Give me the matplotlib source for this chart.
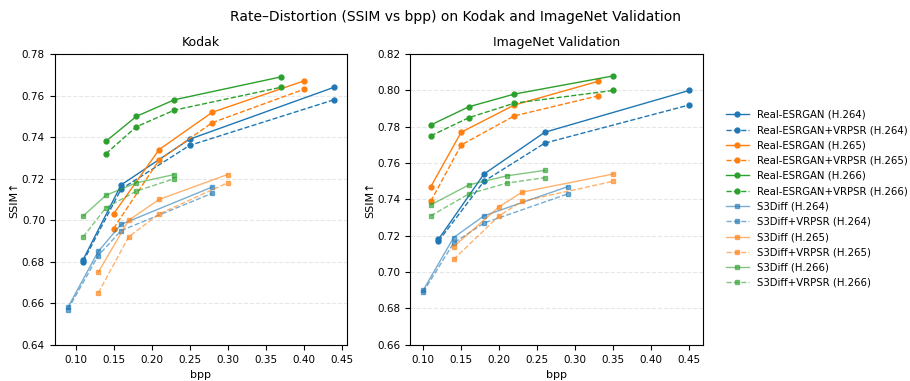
import matplotlib
matplotlib.use("Agg")
import matplotlib.pyplot as plt

# Kodak
kodak_esr_bpp = [0.11, 0.16, 0.25, 0.44]
kodak_esr_264 = [0.681, 0.717, 0.739, 0.764]
kodak_esr_264_vrpsr = [0.680, 0.715, 0.736, 0.758]
kodak_esr265_bpp = [0.15, 0.21, 0.28, 0.40]
kodak_esr_265 = [0.703, 0.734, 0.752, 0.767]
kodak_esr_265_vrpsr = [0.696, 0.729, 0.747, 0.763]
kodak_esr266_bpp = [0.14, 0.18, 0.23, 0.37]
kodak_esr_266 = [0.738, 0.750, 0.758, 0.769]
kodak_esr_266_vrpsr = [0.732, 0.745, 0.753, 0.764]

kodak_s3d264_bpp = [0.09, 0.13, 0.16, 0.28]
kodak_s3d_264 = [0.658, 0.685, 0.698, 0.716]
kodak_s3d_264_vrpsr = [0.657, 0.683, 0.695, 0.713]
kodak_s3d265_bpp = [0.13, 0.17, 0.21, 0.30]
kodak_s3d_265 = [0.675, 0.700, 0.710, 0.722]
kodak_s3d_265_vrpsr = [0.665, 0.692, 0.703, 0.718]
kodak_s3d266_bpp = [0.11, 0.14, 0.18, 0.23]
kodak_s3d_266 = [0.702, 0.712, 0.718, 0.722]
kodak_s3d_266_vrpsr = [0.692, 0.706, 0.714, 0.720]

# ImageNet validation
inet_esr264_bpp = [0.12, 0.18, 0.26, 0.45]
inet_esr_264 = [0.718, 0.754, 0.777, 0.800]
inet_esr_264_vrpsr = [0.717, 0.750, 0.771, 0.792]
inet_esr265_bpp = [0.11, 0.15, 0.22, 0.33]
inet_esr_265 = [0.747, 0.777, 0.792, 0.805]
inet_esr_265_vrpsr = [0.739, 0.770, 0.786, 0.797]
inet_esr266_bpp = [0.11, 0.16, 0.22, 0.35]
inet_esr_266 = [0.781, 0.791, 0.798, 0.808]
inet_esr_266_vrpsr = [0.775, 0.785, 0.793, 0.800]

inet_s3d264_bpp = [0.10, 0.14, 0.18, 0.29]
inet_s3d_264 = [0.690, 0.719, 0.731, 0.747]
inet_s3d_264_vrpsr = [0.689, 0.716, 0.727, 0.743]
inet_s3d265_bpp = [0.14, 0.20, 0.23, 0.35]
inet_s3d_265 = [0.714, 0.736, 0.744, 0.754]
inet_s3d_265_vrpsr = [0.707, 0.731, 0.739, 0.750]
inet_s3d266_bpp = [0.11, 0.16, 0.21, 0.26]
inet_s3d_266 = [0.737, 0.748, 0.753, 0.756]
inet_s3d_266_vrpsr = [0.731, 0.743, 0.749, 0.752]

colors = {"264": "#1f77b4", "265": "#ff7f0e", "266": "#2ca02c"}


def draw(ax, series):
    """plot every series tuple (bpp, ssim, label, codec, model, vrpsr)"""
    for bpp, ssim, label, codec, model, vrpsr in series:
        ls = "--" if vrpsr else "-"
        if model == "esr":
            ax.plot(bpp, ssim, ls, marker="o", ms=3.5, lw=1.0,
                    color=colors[codec], label=label)
        else:
            ax.plot(bpp, ssim, ls, marker="s", ms=3.5, lw=1.0,
                    color=colors[codec], alpha=0.6, label=label)


kodak = [
    (kodak_esr_bpp, kodak_esr_264, "Real-ESRGAN (H.264)", "264", "esr", False),
    (kodak_esr_bpp, kodak_esr_264_vrpsr, "Real-ESRGAN+VRPSR (H.264)", "264", "esr", True),
    (kodak_esr265_bpp, kodak_esr_265, "Real-ESRGAN (H.265)", "265", "esr", False),
    (kodak_esr265_bpp, kodak_esr_265_vrpsr, "Real-ESRGAN+VRPSR (H.265)", "265", "esr", True),
    (kodak_esr266_bpp, kodak_esr_266, "Real-ESRGAN (H.266)", "266", "esr", False),
    (kodak_esr266_bpp, kodak_esr_266_vrpsr, "Real-ESRGAN+VRPSR (H.266)", "266", "esr", True),
    (kodak_s3d264_bpp, kodak_s3d_264, "S3Diff (H.264)", "264", "s3d", False),
    (kodak_s3d264_bpp, kodak_s3d_264_vrpsr, "S3Diff+VRPSR (H.264)", "264", "s3d", True),
    (kodak_s3d265_bpp, kodak_s3d_265, "S3Diff (H.265)", "265", "s3d", False),
    (kodak_s3d265_bpp, kodak_s3d_265_vrpsr, "S3Diff+VRPSR (H.265)", "265", "s3d", True),
    (kodak_s3d266_bpp, kodak_s3d_266, "S3Diff (H.266)", "266", "s3d", False),
    (kodak_s3d266_bpp, kodak_s3d_266_vrpsr, "S3Diff+VRPSR (H.266)", "266", "s3d", True),
]

inet = [
    (inet_esr264_bpp, inet_esr_264, "Real-ESRGAN (H.264)", "264", "esr", False),
    (inet_esr264_bpp, inet_esr_264_vrpsr, "Real-ESRGAN+VRPSR (H.264)", "264", "esr", True),
    (inet_esr265_bpp, inet_esr_265, "Real-ESRGAN (H.265)", "265", "esr", False),
    (inet_esr265_bpp, inet_esr_265_vrpsr, "Real-ESRGAN+VRPSR (H.265)", "265", "esr", True),
    (inet_esr266_bpp, inet_esr_266, "Real-ESRGAN (H.266)", "266", "esr", False),
    (inet_esr266_bpp, inet_esr_266_vrpsr, "Real-ESRGAN+VRPSR (H.266)", "266", "esr", True),
    (inet_s3d264_bpp, inet_s3d_264, "S3Diff (H.264)", "264", "s3d", False),
    (inet_s3d264_bpp, inet_s3d_264_vrpsr, "S3Diff+VRPSR (H.264)", "264", "s3d", True),
    (inet_s3d265_bpp, inet_s3d_265, "S3Diff (H.265)", "265", "s3d", False),
    (inet_s3d265_bpp, inet_s3d_265_vrpsr, "S3Diff+VRPSR (H.265)", "265", "s3d", True),
    (inet_s3d266_bpp, inet_s3d_266, "S3Diff (H.266)", "266", "s3d", False),
    (inet_s3d266_bpp, inet_s3d_266_vrpsr, "S3Diff+VRPSR (H.266)", "266", "s3d", True),
]

fig, (ax1, ax2) = plt.subplots(1, 2, figsize=(9.1, 3.81), dpi=100)
fig.subplots_adjust(left=0.06, right=0.772, bottom=0.095, top=0.858, wspace=0.214)

draw(ax1, kodak)
draw(ax2, inet)

ax1.set_ylim(0.64, 0.78)
ax2.set_ylim(0.66, 0.82)
for ax, title in ((ax1, "Kodak"), (ax2, "ImageNet Validation")):
    ax.set_title(title, fontsize=9)
    ax.set_xlabel("bpp", fontsize=8)
    ax.set_ylabel("SSIM↑", fontsize=8, labelpad=1.5)
    ax.tick_params(labelsize=7.5)
    ax.set_xticks([0.10, 0.15, 0.20, 0.25, 0.30, 0.35, 0.40, 0.45])
    ax.grid(axis="y", linestyle="--", alpha=0.3)

fig.suptitle("Rate–Distortion (SSIM vs bpp) on Kodak and ImageNet Validation",
             fontsize=10, y=0.975)
handles, labels = ax1.get_legend_handles_labels()
fig.legend(handles, labels, loc="center left", bbox_to_anchor=(0.788, 0.478),
           frameon=False, fontsize=7.3, handlelength=2.2, labelspacing=0.52)

fig.savefig("out.png", dpi=100)
